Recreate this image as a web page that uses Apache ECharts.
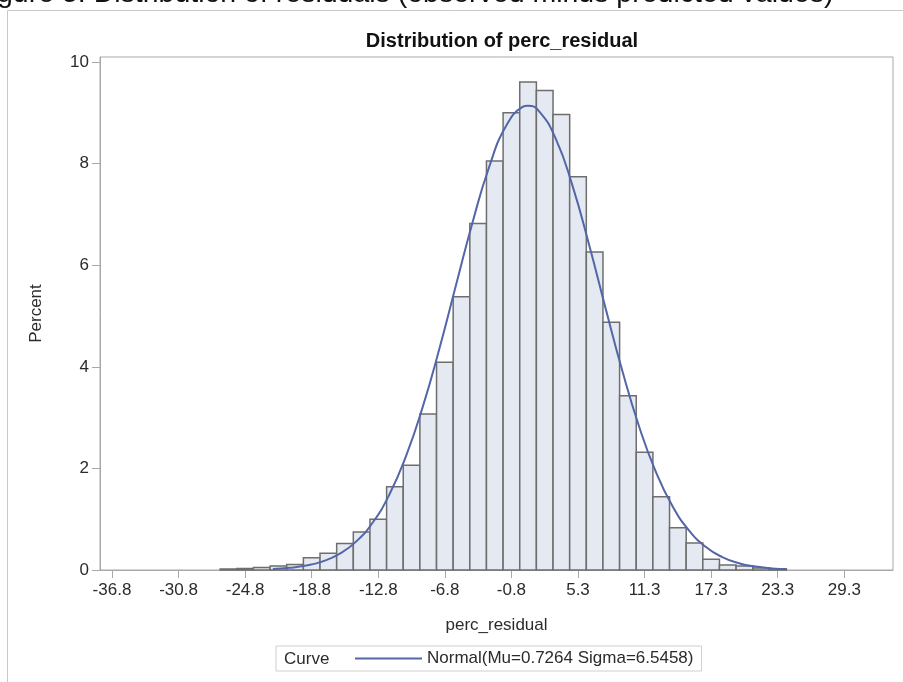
<!DOCTYPE html>
<html>
<head>
<meta charset="utf-8">
<title>Distribution of perc_residual</title>
<script src="https://cdn.jsdelivr.net/npm/echarts@6/dist/echarts.min.js"></script>
<style>
  html, body { margin: 0; padding: 0; background: #fff; }
  #chart { width: 903px; height: 682px; }
</style>
</head>
<body>
<div id="chart"></div>
<script>
// histogram bins (midpoints, width 1.5) and their percent heights
var binWidth = 1.5;
var binMids = [-26.25, -24.75, -23.25, -21.75, -20.25, -18.75, -17.25, -15.75, -14.25, -12.75,
    -11.25, -9.75, -8.25, -6.75, -5.25, -3.75, -2.25, -0.75, 0.75, 2.25,
    3.75, 5.25, 6.75, 8.25, 9.75, 11.25, 12.75, 14.25, 15.75, 17.25,
    18.75, 20.25, 21.75, 23.25];
var binPercent = [0.02, 0.03, 0.05, 0.08, 0.11, 0.24, 0.33, 0.52, 0.75, 1.0,
    1.64, 2.06, 3.07, 4.09, 5.38, 6.82, 8.05, 9.0, 9.61, 9.44,
    8.97, 7.74, 6.26, 4.88, 3.43, 2.32, 1.44, 0.83, 0.53, 0.21,
    0.1, 0.08, 0.04, 0.025];

// normal curve
var curveX = [-22.25, -20.75, -19.25, -17.75, -16.25, -14.75, -13.25, -11.75, -10.25, -8.75,
    -7.25, -5.75, -4.25, -2.75, -1.25, 0.25, 0.73, 1.75, 3.25, 4.75,
    6.25, 7.75, 9.25, 10.75, 12.25, 13.75, 15.25, 16.75, 18.25, 19.75,
    21.25, 22.75, 24.1];
var curveY = [0.019, 0.042, 0.087, 0.17, 0.317, 0.559, 0.935, 1.486, 2.242, 3.206,
    4.352, 5.604, 6.847, 7.94, 8.735, 9.118, 9.142, 9.031, 8.488, 7.568,
    6.403, 5.141, 3.916, 2.83, 1.941, 1.264, 0.78, 0.457, 0.254, 0.134,
    0.067, 0.032, 0.016];

var xTickValues = [-36.75, -30.75, -24.75, -18.75, -12.75, -6.75, -0.75, 5.25, 11.25, 17.25, 23.25, 29.25];
var xTickLabels = ['-36.8', '-30.8', '-24.8', '-18.8', '-12.8', '-6.8', '-0.8', '5.3', '11.3', '17.3', '23.3', '29.3'];
var yTickValues = [0, 2, 4, 6, 8, 10];

var curveName = 'Normal(Mu=0.7264 Sigma=6.5458)';

var chart = echarts.init(document.getElementById('chart'));

var font = '"Liberation Sans", Arial, sans-serif';
var axisGray = '#a8a8a8';
var textColor = '#2b2b2b';

chart.setOption({
    animation: false,
    textStyle: { fontFamily: font },
    title: {
        text: 'Distribution of perc_residual',
        left: 497,
        textAlign: 'center',
        top: 26,
        textStyle: { fontSize: 20, fontWeight: 'bold', color: '#111', fontFamily: font }
    },
    grid: {
        left: 100,
        top: 57,
        right: 10,
        bottom: 112,
        show: true,
        borderColor: axisGray,
        borderWidth: 1
    },
    legend: {
        data: [{ name: curveName, icon: 'rect' }],
        left: 276,
        top: 646,
        padding: [4, 8, 4, 79],
        itemWidth: 67,
        itemHeight: 2,
        borderColor: '#cfcfcf',
        borderWidth: 1,
        textStyle: { fontSize: 17, color: textColor, fontFamily: font, lineHeight: 17 }
    },
    graphic: [
        {
            type: 'text',
            left: 284,
            top: 651,
            style: { text: 'Curve', fill: textColor, font: '17px ' + font }
        },
        {
            type: 'polyline',
            shape: { points: [[7.5, 682], [7.5, 10.5], [903, 10.5]] },
            style: { stroke: '#c8c8c8', lineWidth: 1, fill: null }
        },
        {
            type: 'text',
            left: -3,
            top: -20,
            style: {
                text: 'gure 5. Distribution of residuals (observed minus predicted values)',
                font: '28.5px ' + font,
                fill: '#111'
            }
        }
    ],
    xAxis: {
        type: 'value',
        min: -37.83,
        max: 33.64,
        name: 'perc_residual',
        nameLocation: 'middle',
        nameGap: 47,
        nameTextStyle: { fontSize: 17, color: textColor },
        axisLine: { show: true, onZero: false, lineStyle: { color: axisGray } },
        axisTick: { show: true, length: 8, customValues: xTickValues, lineStyle: { color: axisGray } },
        axisLabel: {
            customValues: xTickValues,
            fontSize: 17,
            color: textColor,
            margin: 12,
            formatter: function (v) {
                var best = 0;
                for (var i = 1; i < xTickValues.length; i++) {
                    if (Math.abs(xTickValues[i] - v) < Math.abs(xTickValues[best] - v)) best = i;
                }
                return xTickLabels[best];
            }
        },
        splitLine: { show: false }
    },
    yAxis: {
        type: 'value',
        min: 0,
        max: 10.1,
        name: 'Percent',
        nameLocation: 'middle',
        nameGap: 55,
        nameTextStyle: { fontSize: 17, color: textColor },
        axisLine: { show: true, onZero: false, lineStyle: { color: axisGray } },
        axisTick: { show: true, length: 8, customValues: yTickValues, lineStyle: { color: axisGray } },
        axisLabel: { customValues: yTickValues, fontSize: 17, color: textColor, margin: 11 },
        splitLine: { show: false }
    },
    series: [
        {
            name: 'Histogram',
            type: 'custom',
            data: binMids.map(function (m, i) { return [m, binPercent[i]]; }),
            renderItem: function (params, api) {
                var mid = api.value(0);
                var h = api.value(1);
                var p0 = api.coord([mid - binWidth / 2, h]);
                var p1 = api.coord([mid + binWidth / 2, 0]);
                return {
                    type: 'rect',
                    shape: { x: p0[0], y: p0[1], width: p1[0] - p0[0], height: p1[1] - p0[1] },
                    style: { fill: '#e4e9f2', stroke: '#6e6e6e', lineWidth: 1.5 }
                };
            },
            z: 2
        },
        {
            name: curveName,
            type: 'line',
            data: curveX.map(function (x, i) { return [x, curveY[i]]; }),
            smooth: true,
            symbol: 'none',
            lineStyle: { color: '#5266a8', width: 2 },
            itemStyle: { color: '#5266a8' },
            z: 3
        }
    ]
});
</script>
</body>
</html>
